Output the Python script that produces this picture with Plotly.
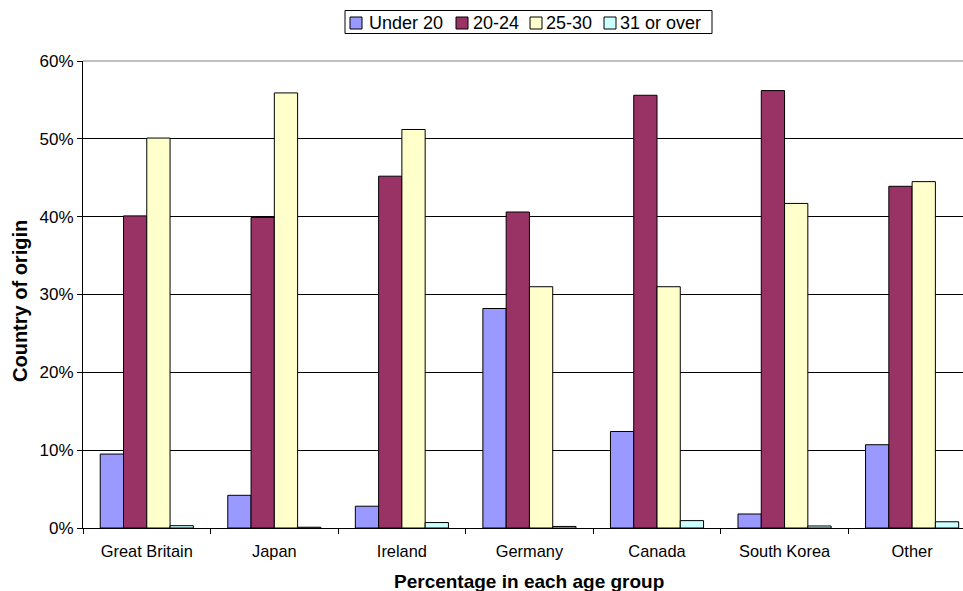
import plotly.graph_objects as go

countries = ["Great Britain", "Japan", "Ireland", "Germany", "Canada", "South Korea", "Other"]
age_groups = ["Under 20", "20-24", "25-30", "31 or over"]

under_20 = [9.5, 4.2, 2.8, 28.2, 12.4, 1.8, 10.7]
age_20_24 = [40.1, 39.9, 45.2, 40.6, 55.6, 56.2, 43.9]
age_25_30 = [50.1, 55.9, 51.2, 31.0, 31.0, 41.7, 44.5]
over_31 = [0.3, 0.1, 0.7, 0.2, 0.95, 0.26, 0.8]

series = [under_20, age_20_24, age_25_30, over_31]
colors = ["#9999FF", "#993366", "#FFFFCC", "#CCFFFF"]

font_family = "Liberation Sans, Arial, sans-serif"

# figure / plot-area geometry in pixels
W, H = 963, 591
PL, PT, PR, PB = 83, 61, 963, 528


def px_x(px):
    return (px - PL) / (PR - PL)


def px_y(py):
    return (PB - py) / (PB - PT)


fig = go.Figure()
for name, vals, col in zip(age_groups, series, colors):
    fig.add_trace(go.Bar(
        name=name,
        x=countries,
        y=[v / 100 for v in vals],
        marker=dict(color=col, line=dict(color="#000000", width=1)),
    ))

# plot-area top border in grey
shapes = [
    dict(type="line", xref="paper", yref="paper", x0=0, x1=1, y0=1, y1=1,
         line=dict(color="#808080", width=1), layer="above"),
]

# legend drawn as a boxed row of swatches and labels above the plot
legend_swatch_left = [350, 456, 530, 604]
legend_text_left = [368, 472, 545, 619]
shapes.append(
    dict(type="rect", xref="paper", yref="paper",
         x0=px_x(345), x1=px_x(712), y0=px_y(33.5), y1=px_y(10.5),
         line=dict(color="#000000", width=1), fillcolor="white", layer="above"))
annotations = []
for name, col, sx, tx in zip(age_groups, colors, legend_swatch_left, legend_text_left):
    shapes.append(dict(type="rect", xref="paper", yref="paper",
                       x0=px_x(sx), x1=px_x(sx + 12), y0=px_y(29), y1=px_y(17),
                       line=dict(color="#000000", width=1), fillcolor=col, layer="above"))
    annotations.append(dict(text=name, xref="paper", yref="paper",
                            x=px_x(tx), y=px_y(22.5), xanchor="left", yanchor="middle",
                            showarrow=False, font=dict(size=18, family=font_family),
                            xshift=-1))

annotations += [
    dict(
        text="<b>Percentage in each age group</b>",
        xref="paper", yref="paper",
        x=px_x(529), y=px_y(581),
        xanchor="center", yanchor="middle",
        showarrow=False,
        font=dict(size=19, family=font_family),
    ),
    dict(
        text="<b>Country of origin</b>",
        xref="paper", yref="paper",
        x=px_x(20), y=px_y(301),
        xanchor="center", yanchor="middle",
        textangle=-90,
        showarrow=False,
        font=dict(size=20, family=font_family),
    ),
]

fig.update_layout(
    width=W,
    height=H,
    margin=dict(l=PL, r=W - PR, t=PT, b=H - PB),
    paper_bgcolor="white",
    plot_bgcolor="white",
    barmode="group",
    bargap=0.27,
    bargroupgap=0,
    font=dict(family=font_family, size=16, color="#000000"),
    showlegend=False,
    shapes=shapes,
    annotations=annotations,
    xaxis=dict(
        type="category",
        range=[-0.5, 6.399],
        tickson="boundaries",
        ticks="outside",
        ticklen=5,
        tickcolor="#000000",
        showline=True,
        linecolor="#000000",
        linewidth=1,
        showgrid=False,
        tickfont=dict(size=16.4),
        ticklabelstandoff=8,
    ),
    yaxis=dict(
        range=[0, 0.6],
        dtick=0.1,
        tickformat=".0%",
        ticks="outside",
        ticklen=5,
        tickcolor="#000000",
        showline=True,
        linecolor="#000000",
        linewidth=1,
        showgrid=True,
        gridcolor="#000000",
        gridwidth=1,
        zeroline=False,
        tickfont=dict(size=17),
    ),
)

fig.write_html("out.html")
